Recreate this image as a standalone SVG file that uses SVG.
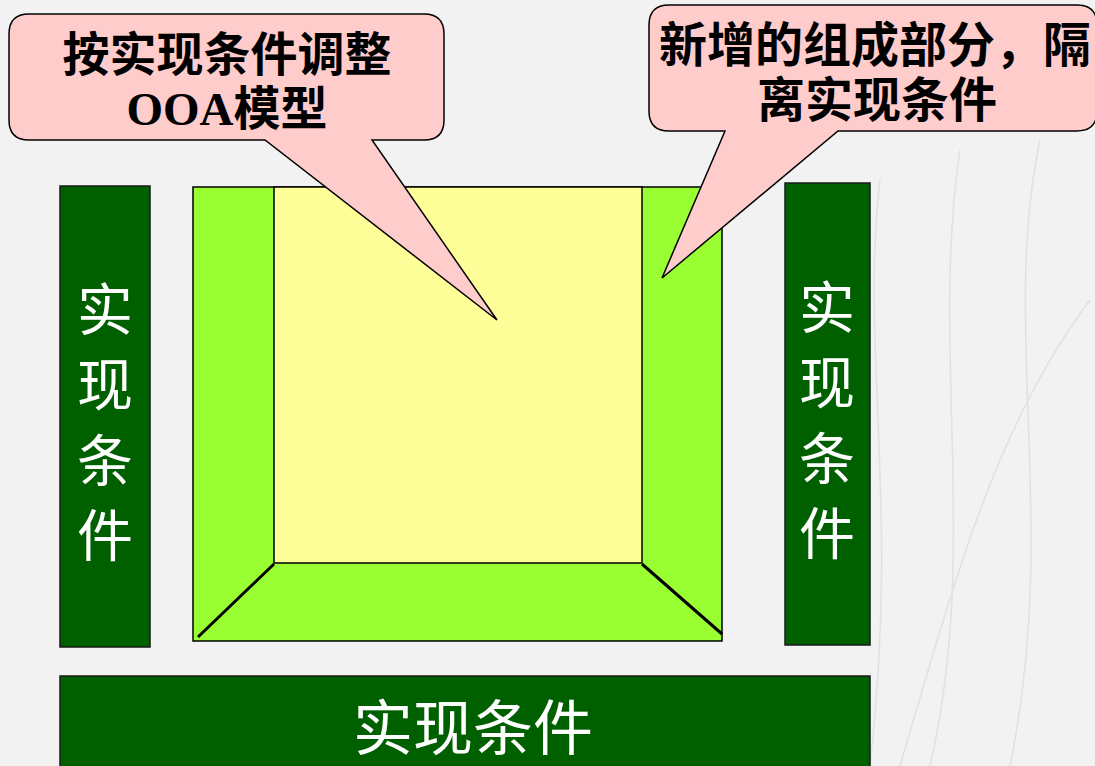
<svg xmlns="http://www.w3.org/2000/svg" width="1095" height="766" viewBox="0 0 1095 766">
<style>
.bar{fill:#006000;stroke:#1a1a1a;stroke-width:1.5}
.wt{fill:#ffffff;font-family:"Noto Sans CJK SC","Noto Sans CJK JP",sans-serif;font-size:56px;text-anchor:middle}
.bt{fill:#000000;font-family:"Liberation Serif","Noto Sans CJK SC",serif;font-size:47px;font-weight:bold;text-anchor:middle}
.callout{fill:#ffcccc;stroke:#000000;stroke-width:1.5}
.edge{stroke:#000000;fill:none}
</style>
<rect x="0" y="0" width="1095" height="766" fill="#f2f2f2"/>
<g opacity="0.4" fill="none" stroke="#c8c8c8" stroke-width="1.5">
<path d="M880 180 C 860 350, 900 500, 870 766"/>
<path d="M960 150 C 930 350, 980 550, 930 766"/>
<path d="M1040 140 C 1000 330, 1060 520, 1010 766"/>
<path d="M1090 300 C 1000 420, 960 560, 900 766"/>
</g>
<g id="left-bar">
<rect class="bar" x="60" y="186" width="90" height="461"/>
<text class="wt" x="105" y="330">实</text>
<text class="wt" x="105" y="405">现</text>
<text class="wt" x="105" y="481">条</text>
<text class="wt" x="105" y="556">件</text>
</g>
<g id="right-bar">
<rect class="bar" x="785" y="183" width="85" height="462"/>
<text class="wt" x="827" y="328">实</text>
<text class="wt" x="827" y="403">现</text>
<text class="wt" x="827" y="479">条</text>
<text class="wt" x="827" y="554">件</text>
</g>
<g id="bottom-bar">
<rect class="bar" x="60" y="676" width="810" height="100"/>
<text class="wt" x="473" y="750" style="font-size:60px">实现条件</text>
</g>
<g id="frame">
<rect x="193" y="187" width="529" height="454" fill="#99ff33" stroke="#000000" stroke-width="1.5"/>
</g>
<g id="core">
<rect x="274" y="187" width="368" height="376" fill="#ffff99" stroke="#000000" stroke-width="1.5"/>
</g>
<g id="connectors">
<line class="edge" x1="274" y1="564" x2="198" y2="637" style="stroke-width:3"/>
<line class="edge" x1="642" y1="564" x2="722" y2="634" style="stroke-width:3"/>
</g>
<g id="callout-left">
<path class="callout" d="M29 14 H424 Q444 14 444 34 V120 Q444 140 424 140 H372 L497 320 L265 140 H29 Q9 140 9 120 V34 Q9 14 29 14 Z"/>
<text class="bt" x="227" y="71">按实现条件调整</text>
<text class="bt" x="227" y="125">OOA模型</text>
</g>
<g id="callout-right">
<path class="callout" d="M669 5 H1077 Q1097 5 1097 25 V111 Q1097 131 1077 131 H838 L662 278 L725 131 H669 Q649 131 649 111 V25 Q649 5 669 5 Z"/>
<text class="bt" x="875" y="62" style="font-size:48px">新增的组成部分，隔</text>
<text class="bt" x="877" y="117" style="font-size:48px">离实现条件</text>
</g>
</svg>
